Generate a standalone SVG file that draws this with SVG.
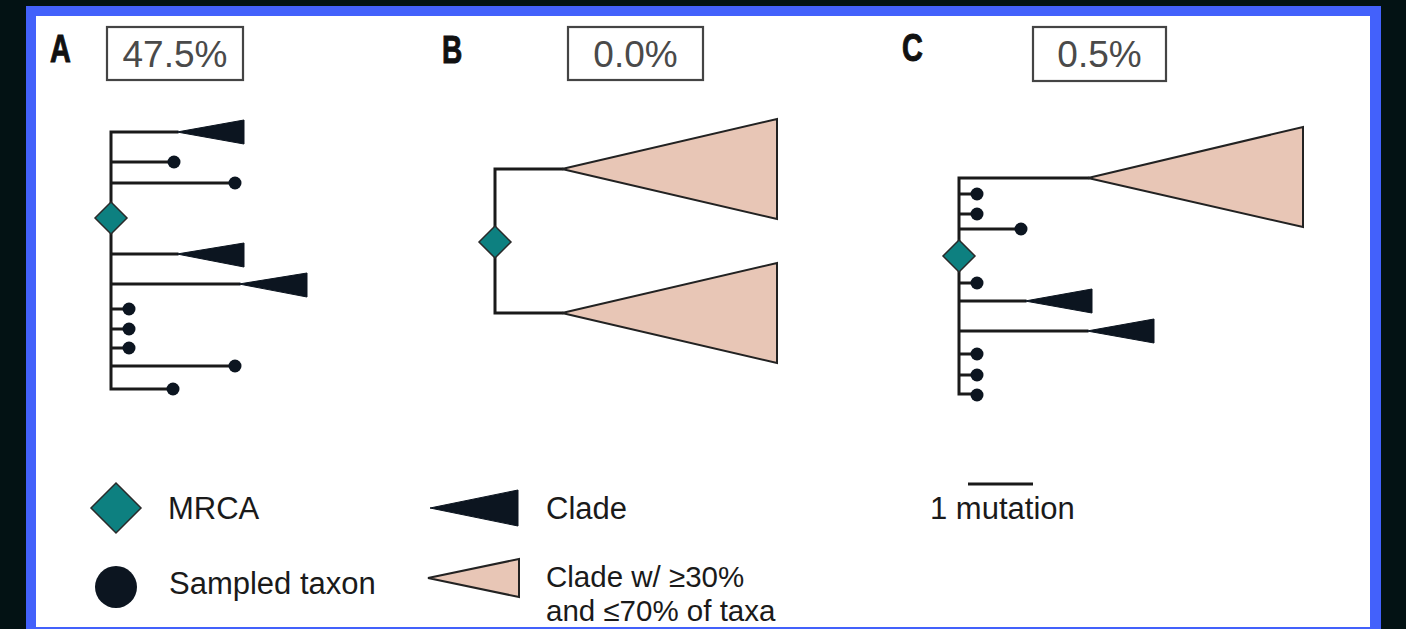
<svg xmlns="http://www.w3.org/2000/svg" width="1406" height="629" viewBox="0 0 1406 629">
<style>
.ln{stroke:#1a1a1a;stroke-width:3;fill:none;stroke-linecap:square}
.dot{fill:#0c1520}
.clade{fill:#0c1520;stroke:#0c1520;stroke-width:1}
.pink{fill:#e8c6b6;stroke:#222;stroke-width:2;stroke-linejoin:miter}
.mrca{fill:#0d8080;stroke:#2a2a2a;stroke-width:1.5}
.pbox{fill:#fff;stroke:#444;stroke-width:2.2}
.ptxt{font-family:"Liberation Sans",Arial,sans-serif;font-size:37px;fill:#4a4a4a;text-anchor:middle}
.lab{font-family:"Liberation Sans",Arial,sans-serif;font-size:39px;font-weight:bold;fill:#111;stroke:#111;stroke-width:1}
.leg{font-family:"Liberation Sans",Arial,sans-serif;font-size:31px;fill:#1a1a1a}
.leg2{font-family:"Liberation Sans",Arial,sans-serif;font-size:29.5px;fill:#1a1a1a}
</style>
<rect x="0" y="0" width="1406" height="629" fill="#031214"/>
<rect x="26" y="6" width="1355" height="623" fill="#4361fb"/>
<rect x="36" y="16" width="1334" height="611" fill="#ffffff"/>

<g id="panelA">
<text class="lab" transform="translate(50,62) scale(0.74,1)">A</text>
<rect class="pbox" x="107" y="27" width="136" height="53"/>
<text class="ptxt" x="175" y="67">47.5%</text>
</g>
<g id="panelB">
<text class="lab" transform="translate(442,63) scale(0.72,1)">B</text>
<rect class="pbox" x="568" y="27" width="135" height="53"/>
<text class="ptxt" x="635.5" y="67">0.0%</text>
</g>
<g id="panelC">
<text class="lab" transform="translate(902,61) scale(0.74,1)">C</text>
<rect class="pbox" x="1033" y="27" width="133" height="54"/>
<text class="ptxt" x="1099.5" y="67">0.5%</text>
</g>

<g id="connectors">
<path class="ln" d="M111,132 V389 M111,132 H177 M111,162 H174 M111,183 H235 M111,254 H177 M111,284 H239 M111,309 H129 M111,329 H129 M111,348 H129 M111,366 H235 M111,389 H173"/>
<path class="ln" d="M495,169 V313 M495,169 H562 M495,313 H562"/>
<path class="ln" d="M959,178 V394 M959,178 H1088 M959,194 H977 M959,214 H977 M959,229 H1021 M959,283 H977 M959,301 H1025 M959,331 H1087 M959,354 H977 M959,375 H977 M959,394 H977"/>
<path d="M968,484 H1033" stroke="#1a1a1a" stroke-width="3"/>
</g>

<g id="treeA-nodes">
<polygon id="a-clade1" class="clade" points="177,132 244,120 244,144"/>
<circle id="a-t1" class="dot" cx="174" cy="162" r="6.5"/>
<circle id="a-t2" class="dot" cx="235" cy="183" r="6.5"/>
<polygon id="a-mrca" class="mrca" points="111,202 127,218 111,234 95,218"/>
<polygon id="a-clade2" class="clade" points="177,254 244,243 244,267"/>
<polygon id="a-clade3" class="clade" points="239,284 307,273 307,297"/>
<circle id="a-t3" class="dot" cx="129" cy="309" r="6.5"/>
<circle id="a-t4" class="dot" cx="129" cy="329" r="6.5"/>
<circle id="a-t5" class="dot" cx="129" cy="348" r="6.5"/>
<circle id="a-t6" class="dot" cx="235" cy="366" r="6.5"/>
<circle id="a-t7" class="dot" cx="173" cy="389" r="6.5"/>
</g>

<g id="treeB-nodes">
<polygon id="b-clade1" class="pink" points="562,169 777,119 777,219"/>
<polygon id="b-clade2" class="pink" points="562,313 777,263 777,363"/>
<polygon id="b-mrca" class="mrca" points="495,226 511,242 495,258 479,242"/>
</g>

<g id="treeC-nodes">
<polygon id="c-clade1" class="pink" points="1088,178 1303,127 1303,227"/>
<circle id="c-t1" class="dot" cx="977" cy="194" r="6.5"/>
<circle id="c-t2" class="dot" cx="977" cy="214" r="6.5"/>
<circle id="c-t3" class="dot" cx="1021" cy="229" r="6.5"/>
<polygon id="c-mrca" class="mrca" points="959,240 975,256 959,272 943,256"/>
<circle id="c-t4" class="dot" cx="977" cy="283" r="6.5"/>
<polygon id="c-clade2" class="clade" points="1025,301 1092,289 1092,313"/>
<polygon id="c-clade3" class="clade" points="1087,331 1154,319 1154,343"/>
<circle id="c-t5" class="dot" cx="977" cy="354" r="6.5"/>
<circle id="c-t6" class="dot" cx="977" cy="375" r="6.5"/>
<circle id="c-t7" class="dot" cx="977" cy="395" r="6.5"/>
</g>

<g id="legend">
<g id="leg-mrca">
<polygon class="mrca" points="116,483 141,508 116,533 91,508"/>
<text class="leg" x="168" y="519">MRCA</text>
</g>
<g id="leg-taxon">
<circle class="dot" cx="116" cy="587" r="21"/>
<text class="leg" x="169" y="594">Sampled taxon</text>
</g>
<g id="leg-clade">
<polygon class="clade" points="430,508 518,490 518,526"/>
<text class="leg" x="546" y="519">Clade</text>
</g>
<g id="leg-pink">
<polygon class="pink" points="428,578 519,559 519,597"/>
<text class="leg2" x="546" y="587">Clade w/ ≥30%</text>
<text class="leg2" x="546" y="621">and ≤70% of taxa</text>
</g>
<g id="leg-scale">
<text class="leg" x="930" y="519">1 mutation</text>
</g>
</g>
</svg>
